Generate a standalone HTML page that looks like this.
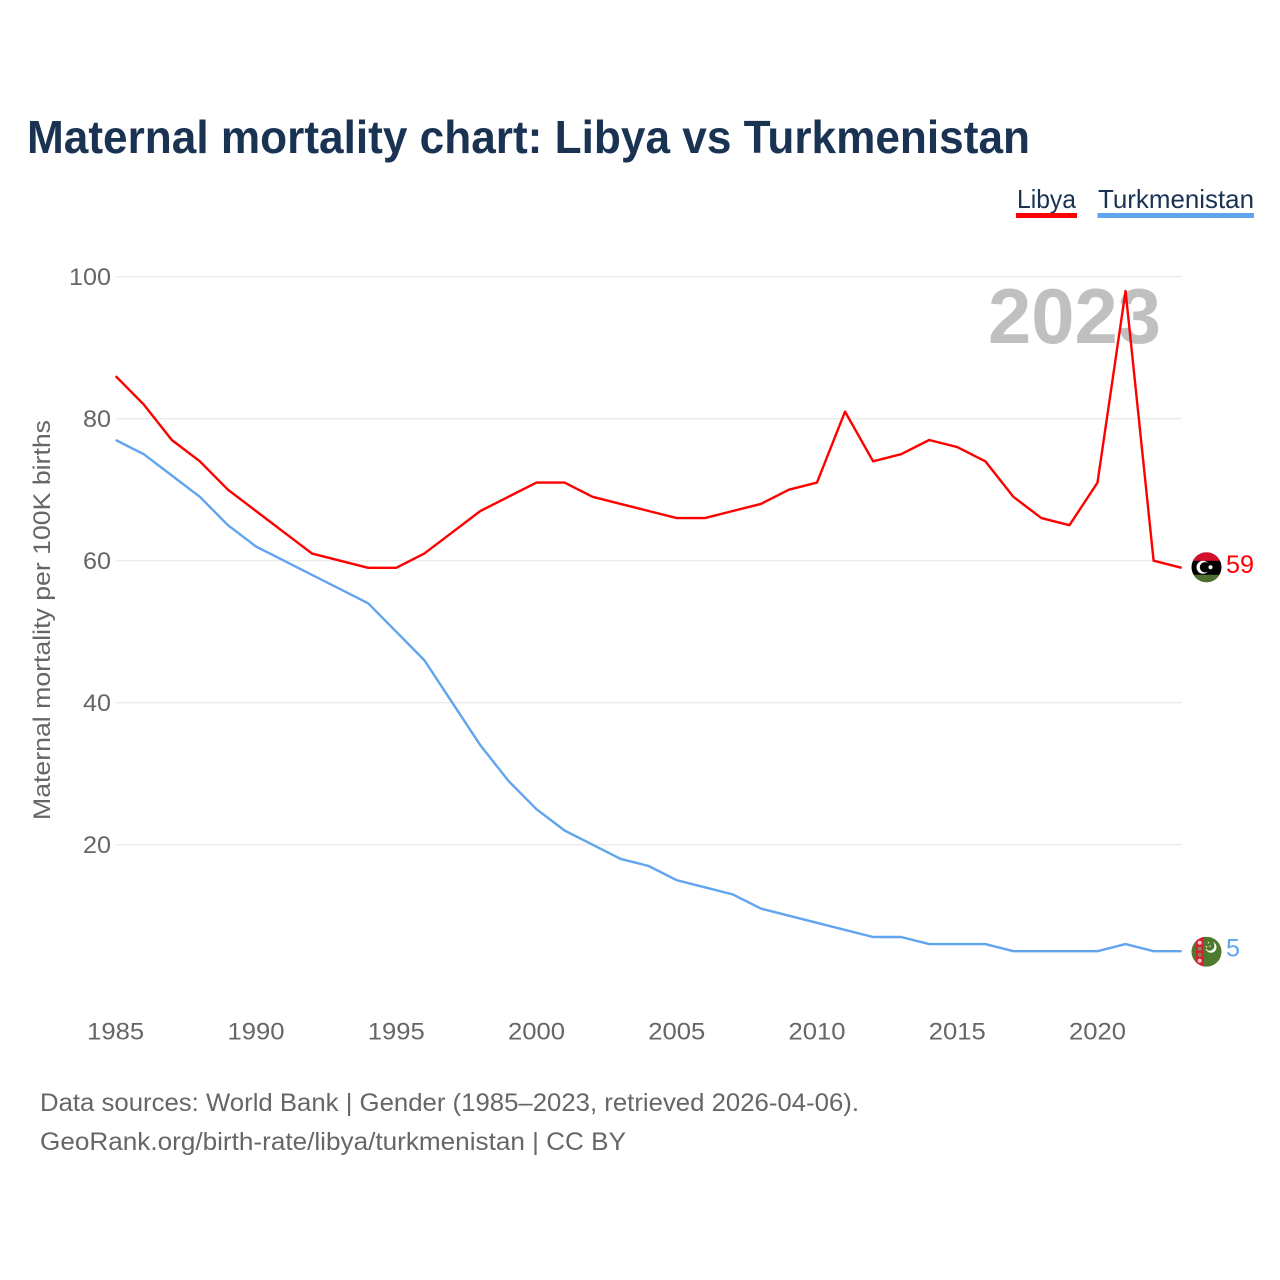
<!DOCTYPE html>
<html lang="en">
<head>
<meta charset="utf-8">
<title>Maternal mortality chart: Libya vs Turkmenistan</title>
<style>
html,body{margin:0;padding:0;background:#fff;}
svg{display:block;font-family:"Liberation Sans",sans-serif;}
</style>
</head>
<body>
<svg id="chart" xmlns="http://www.w3.org/2000/svg" width="1280" height="1280" viewBox="0 0 1280 1280">
<defs>
<clipPath id="flag-clip"><circle cx="0" cy="0" r="15"></circle></clipPath>
</defs>
<rect x="0" y="0" width="1280" height="1280" fill="#ffffff"></rect>
<text x="27" y="153" font-size="46" font-weight="700" fill="#1a3353" textLength="1003" lengthAdjust="spacingAndGlyphs">Maternal mortality chart: Libya vs Turkmenistan</text>
<g>
<g>
<text x="1017" y="208" font-size="26" fill="#1a3353" textLength="59" lengthAdjust="spacingAndGlyphs">Libya</text>
<rect x="1016" y="213" width="61" height="5" fill="#ff0000"></rect>
</g>
<g>
<text x="1098" y="208" font-size="26" fill="#1a3353" textLength="156" lengthAdjust="spacingAndGlyphs">Turkmenistan</text>
<rect x="1097.5" y="213" width="156.5" height="5" fill="#60a5ee"></rect>
</g>
</g>
<g id="grid"></g>
<g id="y-ticks"></g>
<g id="x-ticks"></g>
<text transform="translate(50,820) rotate(-90)" x="0" y="0" font-size="24" fill="#666666" textLength="400" lengthAdjust="spacingAndGlyphs">Maternal mortality per 100K births</text>
<text x="988" y="343" font-size="78" font-weight="700" fill="#c0c0c0" textLength="173" lengthAdjust="spacingAndGlyphs">2023</text>
<g id="series"></g>
<g id="flag-libya" clip-path="url(#flag-clip)">
<rect x="-15" y="-15" width="30" height="30" fill="#000000"></rect>
<rect x="-15" y="-15" width="30" height="8.5" fill="#d2102c"></rect>
<rect x="-15" y="7.5" width="30" height="8" fill="#4c7030"></rect>
<circle cx="-3.5" cy="0" r="6.5" fill="#ffffff"></circle>
<circle cx="-1.5" cy="0" r="5.2" fill="#000000"></circle>
<circle cx="4" cy="0" r="2" fill="#ffffff"></circle>
</g>
<g id="flag-turkmenistan" clip-path="url(#flag-clip)">
<rect x="-15" y="-15" width="30" height="30" fill="#4d7a2c"></rect>
<rect x="-10.5" y="-15" width="7.5" height="30" fill="#d81e34"></rect>
<circle cx="-6.8" cy="-9" r="2" fill="#f0c8c8"></circle>
<circle cx="-6.8" cy="-3" r="2" fill="#7a8a50"></circle>
<circle cx="-6.8" cy="3" r="2" fill="#7a8a50"></circle>
<circle cx="-6.8" cy="9" r="2" fill="#f0c8c8"></circle>
<circle cx="4.5" cy="-4.5" r="5.5" fill="#ffffff"></circle>
<circle cx="3" cy="-6" r="5" fill="#4d7a2c"></circle>
<circle cx="0" cy="-5" r="0.8" fill="#dfe8d0"></circle>
<circle cx="2" cy="-9" r="0.8" fill="#dfe8d0"></circle>
<circle cx="0" cy="-2" r="0.8" fill="#dfe8d0"></circle>
<circle cx="3.5" cy="-5.5" r="0.8" fill="#dfe8d0"></circle>
</g>
<g id="end-labels"></g>
<text x="40" y="1111" font-size="25" fill="#666666" textLength="819" lengthAdjust="spacingAndGlyphs">Data sources: World Bank | Gender (1985–2023, retrieved 2026-04-06).</text>
<text x="40" y="1150" font-size="25" fill="#666666" textLength="586" lengthAdjust="spacingAndGlyphs">GeoRank.org/birth-rate/libya/turkmenistan | CC BY</text>
</svg>
<script>
const years = [1985,1986,1987,1988,1989,1990,1991,1992,1993,1994,1995,1996,1997,1998,1999,2000,2001,2002,2003,2004,2005,2006,2007,2008,2009,2010,2011,2012,2013,2014,2015,2016,2017,2018,2019,2020,2021,2022,2023];
const libyaValues = [86,82,77,74,70,67,64,61,60,59,59,61,64,67,69,71,71,69,68,67,66,66,67,68,70,71,81,74,75,77,76,74,69,66,65,71,98,60,59];
const turkmenistanValues = [77,75,72,69,65,62,60,58,56,54,50,46,40,34,29,25,22,20,18,17,15,14,13,11,10,9,8,7,7,6,6,6,5,5,5,5,6,5,5];
const yTickValues = [20,40,60,80,100];
const xTickValues = [1985,1990,1995,2000,2005,2010,2015,2020];

const SVG_NS = 'http://www.w3.org/2000/svg';
const xScale = function (year) { return 115.7 + (year - 1985) * (1097.5 - 115.7) / 35; };
const yScale = function (value) { return 986.7 - value * 7.1; };
const plotRight = xScale(years[years.length - 1]);

function make(tag, parent, attrs, text) {
  const el = document.createElementNS(SVG_NS, tag);
  Object.keys(attrs).forEach(function (k) { el.setAttribute(k, attrs[k]); });
  if (text !== undefined) el.textContent = text;
  parent.appendChild(el);
  return el;
}

const gridGroup = document.getElementById('grid');
const yTickGroup = document.getElementById('y-ticks');
const xTickGroup = document.getElementById('x-ticks');
const seriesGroup = document.getElementById('series');
const endLabelGroup = document.getElementById('end-labels');

yTickValues.forEach(function (v) {
  const line = make('line', gridGroup, { x1: 116, x2: plotRight, y1: yScale(v), y2: yScale(v), stroke: '#ebebeb', 'stroke-width': 1.3 });
  
  
  const label = make('text', yTickGroup, { x: 111 - String(v).length * 14, y: yScale(v) + 8.5, 'font-size': 24, fill: '#666666', textLength: String(v).length * 14, lengthAdjust: 'spacingAndGlyphs' }, String(v));
  
  
});

xTickValues.forEach(function (v) {
  const label = make('text', xTickGroup, { x: xScale(v) - 28.5, y: 1039.5, 'font-size': 24, fill: '#666666', textLength: 57, lengthAdjust: 'spacingAndGlyphs' }, String(v));
  
  
});

function linePoints(values) {
  return values.map(function (v, i) { return xScale(years[i]).toFixed(2) + ',' + yScale(v).toFixed(2); }).join(' ');
}

const turkmenistanLine = make('polyline', seriesGroup, { points: linePoints(turkmenistanValues), fill: 'none', stroke: '#60a5ee', 'stroke-width': 2.4, 'stroke-linejoin': 'round' });



const libyaLine = make('polyline', seriesGroup, { points: linePoints(libyaValues), fill: 'none', stroke: '#ff0000', 'stroke-width': 2.4, 'stroke-linejoin': 'round' });



const libyaLast = libyaValues[libyaValues.length - 1];
const turkmenistanLast = turkmenistanValues[turkmenistanValues.length - 1];

document.getElementById('flag-libya').setAttribute('transform', 'translate(1206.5,' + (yScale(libyaLast) - 0.5) + ')');
document.getElementById('flag-turkmenistan').setAttribute('transform', 'translate(1206.5,' + (yScale(turkmenistanLast) + 0.5) + ')');

const libyaEndLabel = make('text', endLabelGroup, { x: 1226, y: yScale(libyaLast) + 5, 'font-size': 25, fill: '#ff0000', textLength: 28, lengthAdjust: 'spacingAndGlyphs' }, String(libyaLast));



const turkmenistanEndLabel = make('text', endLabelGroup, { x: 1226, y: yScale(turkmenistanLast) + 5.5, 'font-size': 25, fill: '#60a5ee', textLength: 14, lengthAdjust: 'spacingAndGlyphs' }, String(turkmenistanLast));


</script>
</body>
</html>
